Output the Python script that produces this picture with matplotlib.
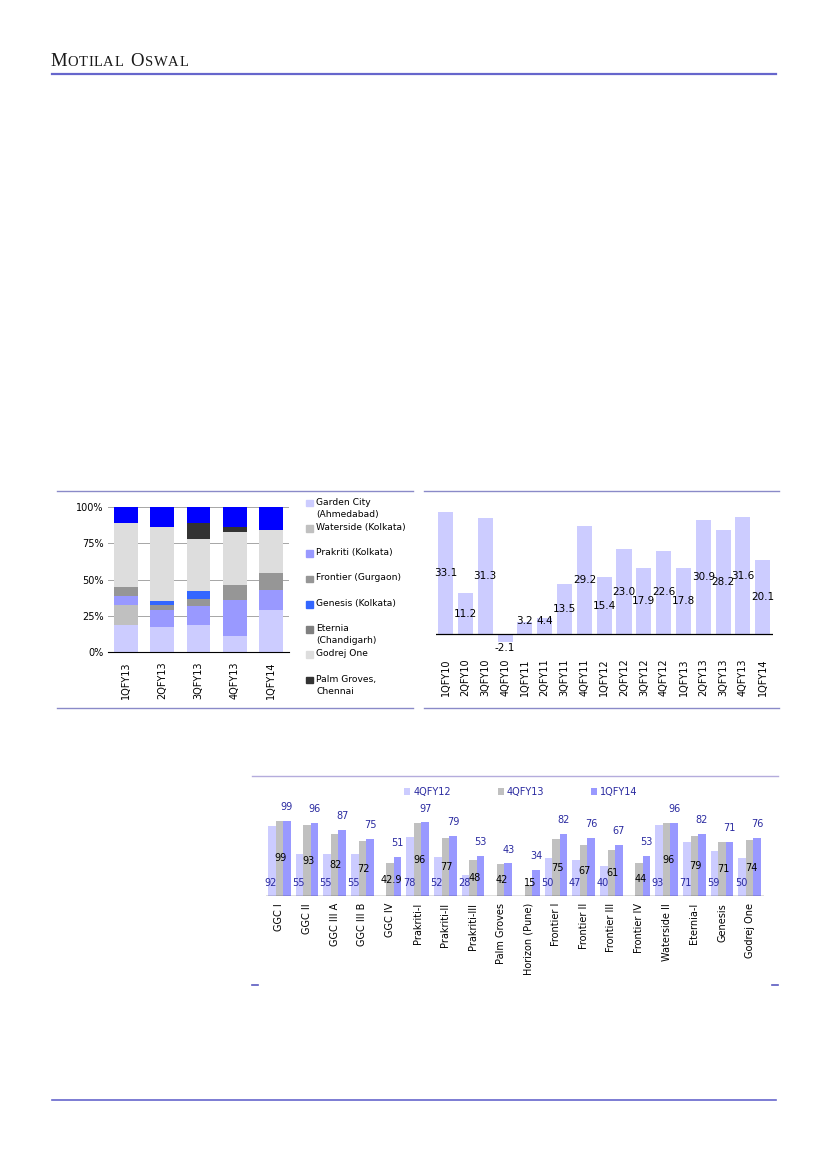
import matplotlib
matplotlib.use("Agg")
import matplotlib.pyplot as plt
import numpy as np
from matplotlib.lines import Line2D
from matplotlib.patches import Rectangle

W, H = 827, 1169

# --- chart 1: sales mix by project (% of volumes) ---
MIX_QUARTERS = ["1QFY13", "2QFY13", "3QFY13", "4QFY13", "1QFY14"]
MIX_SERIES = [
    "Garden City\n(Ahmedabad)",
    "Waterside (Kolkata)",
    "Prakriti (Kolkata)",
    "Frontier (Gurgaon)",
    "Genesis (Kolkata)",
    "Eternia\n(Chandigarh)",
    "Godrej One",
    "Palm Groves,\nChennai",
    "Others",
]
garden_city = [18.3, 16.9, 18.3, 10.8, 29.3]
waterside = [14.2, 0.0, 0.0, 0.0, 0.0]
prakriti = [6.2, 12.1, 13.5, 25.4, 13.7]
frontier = [6.2, 3.4, 4.8, 10.1, 11.4]
genesis = [0.0, 2.7, 5.7, 0.0, 0.0]
eternia = [0.0, 0.0, 0.0, 0.0, 0.0]
godrej_one = [43.9, 50.9, 35.5, 36.3, 29.6]
palm_groves = [0.0, 0.0, 11.0, 3.4, 0.0]
others = [11.2, 14.0, 11.2, 14.0, 16.0]
MIX_COLORS = ["#ccccff", "#c0c0c0", "#9999ff", "#969696", "#3366ff",
              "#808080", "#dddddd", "#333333", "#0000ff"]
MIX_TICKS = [0, 25, 50, 75, 100]
MIX_TICK_LABELS = ["0%", "25%", "50%", "75%", "100%"]

# --- chart 2: quarterly values ---
TREND_QUARTERS = ["1QFY10", "2QFY10", "3QFY10", "4QFY10", "1QFY11", "2QFY11",
                  "3QFY11", "4QFY11", "1QFY12", "2QFY12", "3QFY12", "4QFY12",
                  "1QFY13", "2QFY13", "3QFY13", "4QFY13", "1QFY14"]
trend_values = [33.1, 11.2, 31.3, -2.1, 3.2, 4.4, 13.5, 29.2, 15.4, 23.0,
                17.9, 22.6, 17.8, 30.9, 28.2, 31.6, 20.1]

# --- chart 3: project-wise progress (%) ---
PROJECTS = ["GGC I", "GGC II", "GGC III A", "GGC III B", "GGC IV",
            "Prakriti-I", "Prakriti-II", "Prakriti-III", "Palm Groves",
            "Horizon (Pune)", "Frontier I", "Frontier II", "Frontier III",
            "Frontier IV", "Waterside II", "Eternia-I", "Genesis", "Godrej One"]
nan = np.nan
q4fy12 = [92, 55, 55, 55, nan, 78, 52, 28, nan, nan, 50, 47, 40, nan, 93, 71, 59, 50]
q4fy13 = [99, 93, 82, 72, 42.9, 96, 77, 48, 42, 15, 75, 67, 61, 44, 96, 79, 71, 74]
q1fy14 = [99, 96, 87, 75, 51, 97, 79, 53, 43, 34, 82, 76, 67, 53, 96, 82, 71, 76]
PROGRESS_LABELS = ["4QFY12", "4QFY13", "1QFY14"]
PROGRESS_COLORS = ["#ccccff", "#c0c0c0", "#9999ff"]

NAVY = "#2a2aa0"
RULE = "#6666cc"
PANEL_RULE = "#8a8ac8"
FONT = "DejaVu Sans"


def box(left, top, right, bottom):
    return [left / W, 1 - bottom / H, (right - left) / W, (bottom - top) / H]


def hline(fig, x0, x1, y, color, lw):
    fig.add_artist(Line2D([x0 / W, x1 / W], [1 - y / H, 1 - y / H],
                          transform=fig.transFigure, color=color, lw=lw))


def draw_header(fig, bg):
    # small caps by hand: capitals bigger, the rest smaller, each chained on the last
    base = 1 - 65.5 / H
    pieces = [("M", 13.5, 0), ("O", 10.5, 0.5), ("T", 10.5, 0.5), ("I", 10.5, 0.5),
              ("L", 10.5, 0.5), ("A", 10.5, 0.5), ("L", 10.5, 0.5),
              ("O", 13.5, 5.0), ("S", 10.5, 0.5), ("W", 10.5, 0.5), ("A", 10.5, 0.5),
              ("L", 10.5, 0.5)]
    ch, size, _ = pieces[0]
    prev = bg.text(50 / W, base, ch, fontsize=size, family="Liberation Serif",
                   va="baseline", color="#1a1a1a", transform=fig.transFigure)
    for ch, size, gap in pieces[1:]:
        prev = bg.annotate(ch, xy=(1, base), xycoords=(prev, "figure fraction"),
                           xytext=(gap, 0), textcoords="offset points",
                           fontsize=size, family="Liberation Serif",
                           va="baseline", color="#1a1a1a")
    hline(fig, 52, 776, 74, RULE, 1.6)
    hline(fig, 52, 776, 1100, RULE, 1.2)


def plot_mix(fig):
    ax = fig.add_axes(box(108, 507, 289, 652))
    series = [garden_city, waterside, prakriti, frontier, genesis, eternia,
              godrej_one, palm_groves, others]
    x = np.arange(len(MIX_QUARTERS))
    bottom = np.zeros(len(MIX_QUARTERS))
    for values, color in zip(series, MIX_COLORS):
        ax.bar(x, values, bottom=bottom, width=0.66, color=color, zorder=2)
        bottom += np.array(values)
    ax.set_xlim(-0.5, len(MIX_QUARTERS) - 0.5)
    ax.set_ylim(0, 100)
    ax.set_yticks(MIX_TICKS)
    ax.set_yticklabels(MIX_TICK_LABELS, fontsize=7, family=FONT)
    ax.set_xticks(x)
    ax.set_xticklabels(MIX_QUARTERS, rotation=90, fontsize=7, family=FONT)
    ax.yaxis.grid(True, color="#a6a6a6", lw=0.7, zorder=0)
    for side in ["top", "right", "left"]:
        ax.spines[side].set_visible(False)
    ax.spines["bottom"].set_color("black")
    ax.tick_params(length=0, pad=3)
    ax.tick_params(axis="x", pad=7)

    # legend, Others left out as in the source
    for i, (name, color) in enumerate(zip(MIX_SERIES[:-1], MIX_COLORS[:-1])):
        y = 503 + i * 25.3
        fig.add_artist(Rectangle((306 / W, 1 - (y + 3.3) / H), 6.6 / W, 6.6 / H,
                                 transform=fig.transFigure, color=color))
        fig.text(316.5 / W, 1 - (y - 5.5) / H, name, fontsize=6.6, family=FONT,
                 va="top", linespacing=1.45)

    hline(fig, 57, 413, 491, PANEL_RULE, 1.0)
    hline(fig, 57, 413, 707.5, PANEL_RULE, 1.0)


def plot_trend(fig):
    ax = fig.add_axes(box(435.7, 504.8, 772.7, 652.8))
    x = np.arange(len(TREND_QUARTERS))
    ax.bar(x, trend_values, width=0.76, color="#ccccff")
    ax.axhline(0, color="black", lw=0.9)
    for xi, v in zip(x, trend_values):
        y = max(v / 2, 3.5) if v >= 0 else v - 1.7
        ax.text(xi, y, f"{v:.1f}", ha="center", va="center", fontsize=7.5, family=FONT)
    ax.set_xlim(-0.5, len(TREND_QUARTERS) - 0.5)
    ax.set_ylim(-5, 35)
    ax.set_xticks(x)
    ax.set_xticklabels(TREND_QUARTERS, rotation=90, fontsize=7, family=FONT)
    ax.set_yticks([])
    ax.tick_params(length=0, pad=4)
    for side in ["top", "right", "left", "bottom"]:
        ax.spines[side].set_visible(False)

    hline(fig, 424, 779, 491, PANEL_RULE, 1.0)
    hline(fig, 424, 779, 707.5, PANEL_RULE, 1.0)


def plot_progress(fig):
    ax = fig.add_axes(box(265.5, 812.6, 763.5, 896))
    x = np.arange(len(PROJECTS))
    width = 0.275
    bars = []
    for k, (values, color, label) in enumerate(zip([q4fy12, q4fy13, q1fy14],
                                                   PROGRESS_COLORS, PROGRESS_LABELS)):
        bars.append(ax.bar(x + (k - 1) * width, values, width=width, color=color,
                           label=label))
    ax.axhline(0, color="black", lw=0.9)

    for xi, v in zip(x, q4fy12):
        if not np.isnan(v):
            ax.text(xi - width * 1.15, 17, f"{v:g}", ha="center", va="center",
                    fontsize=7, family=FONT, color=NAVY)
    for xi, v in zip(x, q4fy13):
        ax.text(xi + 0.05, max(v / 2, 17), f"{v:g}", ha="center", va="center",
                fontsize=7, family=FONT, color="black")
    for xi, v in zip(x, q1fy14):
        ax.annotate(f"{v:g}", xy=(xi + width, v), xytext=(0, 10),
                    textcoords="offset points", ha="center", va="center",
                    fontsize=7, family=FONT, color=NAVY)

    ax.set_xlim(-0.5, len(PROJECTS) - 0.5)
    ax.set_ylim(0, 110)
    ax.set_xticks(x)
    ax.set_xticklabels(PROJECTS, rotation=90, fontsize=7, family=FONT)
    ax.set_yticks([])
    ax.tick_params(length=0, pad=5)
    for side in ["top", "right", "left", "bottom"]:
        ax.spines[side].set_visible(False)

    fig.legend(handles=bars, labels=PROGRESS_LABELS, loc="center left",
               bbox_to_anchor=(404 / W, 1 - 792 / H), ncol=3, frameon=False,
               prop={"family": FONT, "size": 7}, labelcolor=NAVY,
               handlelength=0.65, handleheight=0.65, handletextpad=0.3,
               columnspacing=4.8, borderpad=0, borderaxespad=0)

    hline(fig, 252, 778, 776, "#b4acdc", 1.0)
    hline(fig, 252, 258, 985, "#5a5ac0", 1.2)
    hline(fig, 772, 778, 985, "#5a5ac0", 1.2)


def main():
    fig = plt.figure(figsize=(W / 100, H / 100), dpi=100)
    bg = fig.add_axes([0, 0, 1, 1])
    bg.axis("off")
    draw_header(fig, bg)
    plot_mix(fig)
    plot_trend(fig)
    plot_progress(fig)
    fig.savefig("out.png", dpi=100)
    plt.close(fig)


if __name__ == "__main__":
    main()
